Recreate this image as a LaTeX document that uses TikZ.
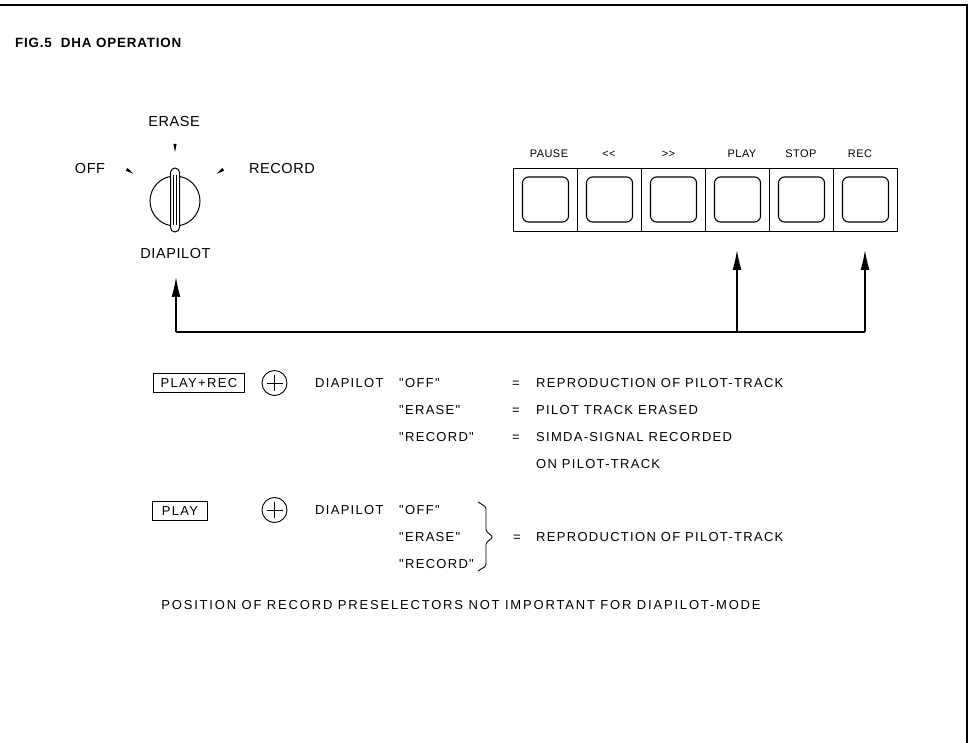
\documentclass[tikz,border=0pt]{standalone}
\usepackage{fontspec}
\setmainfont{Liberation Sans}
\newfontfamily\labf[LetterSpace=4]{Liberation Sans}
\newfontfamily\rowf[LetterSpace=10]{Liberation Sans}
\newfontfamily\footf[LetterSpace=14]{Liberation Sans}
\newfontfamily\titf[LetterSpace=6]{Liberation Sans}
\usetikzlibrary{arrows.meta}
\begin{document}
\begin{tikzpicture}[x=1pt,y=-1pt,
  knoblab/.style={font=\labf\fontsize{14.5}{17}\selectfont, inner sep=0pt, text height=10.4pt, text depth=0pt},
  btnlab/.style={font=\labf\fontsize{11}{13}\selectfont, inner sep=0pt, text height=7.9pt, text depth=0pt},
  txt/.style={font=\rowf\fontsize{13}{15}\selectfont, inner sep=0pt, text height=9.3pt, text depth=0pt, anchor=west},
  cell/.style={draw, line width=0.9pt, minimum width=64pt, minimum height=63pt, inner sep=0pt},
  key/.style={draw, line width=1.1pt, rounded corners=6pt, minimum width=46pt, minimum height=45pt, inner sep=0pt},
  frame/.style={draw, line width=0.9pt, inner sep=0pt, minimum height=19pt},
  plusc/.style={draw, circle, line width=0.9pt, minimum size=25pt, inner sep=0pt},
  arr/.style={line width=1.3pt, -{Latex[length=20pt,width=9pt]}},
  lin/.style={line width=1.3pt}
]
\useasboundingbox (0,0) rectangle (970,743);
% page frame
\draw[line width=1.3pt] (0,5) -- (967,5) -- (967,743);
% title
\node[anchor=west, inner sep=0pt, text height=9.6pt, text depth=0pt, font=\titf\bfseries\fontsize{13.4}{16}\selectfont] (title) at (15,43) {FIG.5\ \ DHA OPERATION};

% knob
\coordinate (kc) at (175,201);
\draw[line width=1pt] (kc) circle (25);
\draw[line width=1pt, fill=white, rounded corners=4.5pt] (170.5,168) rectangle (179.5,232);
\draw[line width=0.5pt] (173.6,175) -- (173.6,225);
\draw[line width=0.5pt] (176.4,175) -- (176.4,225);
% ticks
\fill (173.4,144) -- (176.6,144) -- (175,152) -- cycle;
\fill (133.3,173.7) -- (125.8,170.7) -- (127.6,167.9) -- cycle;
\fill (216.7,173.7) -- (224.2,170.7) -- (222.4,167.9) -- cycle;
\node[knoblab] (erase) at (174,121) {ERASE};
\node[knoblab] (off) at (90,168) {OFF};
\node[knoblab] (record) at (282,168) {RECORD};
\node[knoblab] (diapilot) at (175.5,253) {DIAPILOT};

% button panel
\foreach \i in {0,...,5} {
  \node[cell] (b\i) at (545+64*\i,199.5) {};
  \node[key] (k\i) at (545.5+64*\i,199.5) {};
}
\node[btnlab] (lpause) at (549,154) {PAUSE};
\node[btnlab] (lrew) at (609,154) {<<};
\node[btnlab] (lfwd) at (668.5,154) {>>};
\node[btnlab] (lplay) at (742,154) {PLAY};
\node[btnlab] (lstop) at (801,154) {STOP};
\node[btnlab] (lrec) at (860,154) {REC};

% connectors
\coordinate (tipL) at (176,277);
\coordinate (tipP) at (737,250);
\coordinate (tipR) at (865,250);
\coordinate (cL) at (176,332);
\coordinate (cP) at (737,332);
\coordinate (cR) at (865,332);
\draw[lin] (cL) -- (cP) -- (cR);
\draw[arr] (cL) -- (tipL);
\draw[arr] (cP) -- (tipP);
\draw[arr] (cR) -- (tipR);

% first block
\node[txt, frame, minimum width=91pt] (pr) at (153,383) {PLAY+REC};
\node[plusc] (p1) at (274.5,383) {};
\draw[line width=0.9pt] ([xshift=-8pt]p1.center) -- ([xshift=8pt]p1.center) ([yshift=-8pt]p1.center) -- ([yshift=8pt]p1.center);
\node[txt] (d1) at (315,383) {DIAPILOT};
\node[txt] (o1) at (399,383) {"OFF"};
\node[txt] (e1) at (399,410) {"ERASE"};
\node[txt] (r1) at (399,437) {"RECORD"};
\node[txt] (q1) at (512,383) {=};
\node[txt] (q2) at (512,410) {=};
\node[txt] (q3) at (512,437) {=};
\node[txt] (t1) at (536,383) {REPRODUCTION OF PILOT-TRACK};
\node[txt] (t2) at (536,410) {PILOT TRACK ERASED};
\node[txt] (t3) at (536,437) {SIMDA-SIGNAL RECORDED};
\node[txt] (t4) at (536,464) {ON PILOT-TRACK};

% second block
\node[txt, frame, minimum width=55pt] (pl) at (152,511) {PLAY};
\node[plusc] (p2) at (274.5,510) {};
\draw[line width=0.9pt] ([xshift=-8pt]p2.center) -- ([xshift=8pt]p2.center) ([yshift=-8pt]p2.center) -- ([yshift=8pt]p2.center);
\node[txt] (d2) at (315,510) {DIAPILOT};
\node[txt] (o2) at (399,510) {"OFF"};
\node[txt] (e2) at (399,537) {"ERASE"};
\node[txt] (r2) at (399,564) {"RECORD"};
\draw[line width=0.9pt, rounded corners=1.5pt] (478,502) -- (486,507) -- (486,531) -- (493,537) -- (486,543) -- (486,566) -- (478,571);
\node[txt] (q4) at (513,537) {=};
\node[txt] (t5) at (536,537) {REPRODUCTION OF PILOT-TRACK};

\node[font=\footf\fontsize{13}{15}\selectfont, inner sep=0pt, text height=9.3pt, text depth=0pt] (foot) at (461,605) {POSITION OF RECORD PRESELECTORS NOT IMPORTANT FOR DIAPILOT-MODE};
\end{tikzpicture}
\end{document}
